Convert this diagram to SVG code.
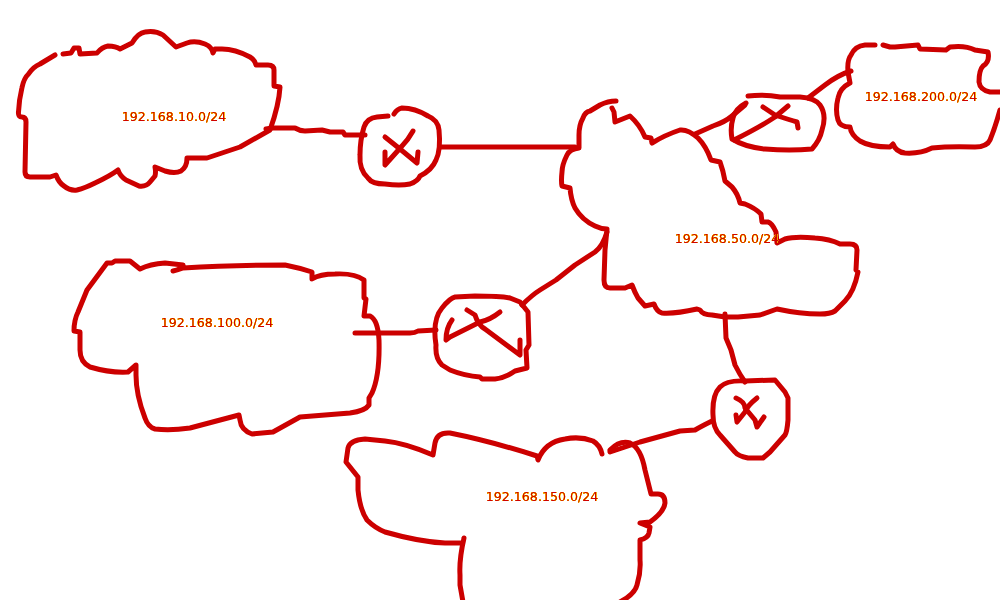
<svg xmlns="http://www.w3.org/2000/svg" width="1000" height="600" viewBox="0 0 1000 600">
<defs>
<filter id="halo" x="-5%" y="-30%" width="110%" height="160%" color-interpolation-filters="sRGB">
<feGaussianBlur in="SourceAlpha" stdDeviation=".5" result="b"/>
<feComponentTransfer in="b" result="a"><feFuncA type="linear" slope="3.5"/></feComponentTransfer>
<feFlood flood-color="#ffee00"/>
<feComposite in2="a" operator="in" result="y"/>
<feMerge><feMergeNode in="y"/><feMergeNode in="SourceGraphic"/></feMerge>
</filter>
</defs>
<style>
path{fill:none;stroke:#cc0000;stroke-width:5;stroke-linecap:round;stroke-linejoin:round}
text{font-family:"DejaVu Sans",sans-serif;font-size:12.6px;fill:#d00000;text-anchor:middle;filter:url(#halo)}
</style>
<rect width="1000" height="600" fill="#fff"/>
<g id="connectors">
<path d="M266,129 L272,128 L295,128 Q300,131 305,131 L322,130 L330,132 L343,132 L345,135 L365,135"/>
<path d="M440,147 L575,147"/>
<path d="M695,134 L713,126 Q725,122 732,116 L745,105"/>
<path d="M808,98 L825,85 Q838,75 851,71"/>
<path d="M355,333 L395,333 L410,333 Q415,333 418,331 L436,330"/>
<path d="M522,305 Q532,295 540,290 L556,280 L575,265 L595,252 Q603,246 607,232"/>
<path d="M725,314 L726,338 L731,350 L735,365 Q740,375 745,382"/>
<path d="M712,421 Q700,427 695,430 L680,431 L640,442 L610,452"/>
</g>
<g id="net-10">
<path d="M55,55 L40,64 Q33,67 28.5,74 Q24,78 22,87.5 Q19,100 18.5,112 Q18,117 22,117 Q26,117 26,122 L25,172 Q25,177 30,177 L50,177 L56,175 Q59,183 64,186 Q70,191 77,190 Q85,188 95,183 Q110,176 118,170 Q120,176 126,180 L139,186 Q146,187 150,182 L155,176 Q156,172 155,167 L165,171 Q175,174 181,171 Q187,167 187,158 L207,158 L240,147 L270,130 Q279,105 280,87 L274,86 L274,70 Q274,65 268,65 L256,65 Q255,60 250,57 Q235,49 222,49 L215,49 L213,53 Q212,47 205,44 Q195,40 187,43 L176,47 L163,35 Q155,30 145,32 Q138,33 132,43 L120,49 Q116,46 108,46 Q102,47 97,53 L80,54 L79,48 L74,48 L71,53 L63,54"/>
<text x="174" y="120.5">192.168.10.0/24</text>
</g>
<g id="router-1">
<path d="M388,116 L377,117 Q367,118 364,127 Q360,140 360,155 Q359,170 368,178 Q372,184 385,184 Q400,186 410,184 Q418,181 420,176 Q432,170 436,160 Q441,150 439,130 Q438,120 428,116 Q415,108 402,108 Q397,109 394,114"/>
<path d="M385,137 L400,149 L417,163 L418,152"/>
<path d="M413,131 Q408,140 402,146 L385,165 L385,152"/>
</g>
<g id="net-50">
<path d="M616,101 Q608,101 600,105 L590,111 Q585,112 583,118 Q579,125 579,135 L579,148 Q570,149 567,155 Q562,165 562,172 Q561,181 562,186 L570,188 Q571,200 575,208 Q582,220 595,226 Q601,229 607,229 L605,250 L604,280 Q604,288 610,288 L625,288 L632,285 Q635,293 638,298 L645,306 L654,304 Q657,312 662,313 Q675,314 697,309 L700,310 Q703,315 712,315 L725,317 L738,317 L760,315 L777,309 Q800,314 820,314 Q830,314 835,311 L845,301 Q854,292 858,272 L856,270 L857,250 Q857,244 850,244 L840,244 Q830,239 815,238 Q795,236 785,239 L777,243 L776,232 Q772,223 768,222 L762,222 L761,214 Q755,208 745,204 L740,203 Q738,194 732,187 L725,181 Q723,170 720,162 L711,160 Q706,146 698,138 Q688,129 680,130 Q665,135 652,143 L651,138 L645,137 Q640,125 630,116 L615,122 L614,112 L612,108"/>
<text x="727" y="242.5">192.168.50.0/24</text>
</g>
<g id="router-2">
<path d="M746,103 Q735,109 733,118 Q730,128 732,139 Q745,147 765,149 Q790,151 812,149 Q820,140 822,130 Q827,115 820,105 Q815,98 800,97 L780,97 Q765,94 748,96"/>
<path d="M763,107 L775,115 Q790,120 797,122 L798,128"/>
<path d="M788,106 L775,117 Q760,127 734,140"/>
</g>
<g id="net-200">
<path d="M875,45 L865,45 Q855,46 851,55 Q847,60 848,72 L850,83 Q840,88 838,98 Q835,110 838,120 Q840,127 850,127 Q851,135 860,141 Q870,147 890,147 L893,144 Q896,152 905,153 Q920,154 932,148 Q950,146 975,147 Q987,147 990,140 Q995,128 1000,110"/>
<path d="M1000,92 L990,92 Q980,90 979,82 Q979,70 983,66 Q990,62 988,52 L975,50 Q965,45 950,47 L946,50 L920,49 L918,45 L895,47 L890,47 L883,45"/>
<text x="921" y="100.5">192.168.200.0/24</text>
</g>
<g id="net-100">
<path d="M173,271 Q178,270 183,268 Q230,265 285,265 Q300,268 312,272 L312,279 Q320,274 335,274 Q355,273 364,280 L364,298 L366,299 L364,316 L370,316 Q378,320 379,340 Q380,375 372,393 L369,398 L369,405 Q365,411 350,413 L300,417 L273,432 L252,434 Q241,430 240,420 L239,415 L190,428 Q170,431 155,429 Q148,427 145,418 Q136,395 136,375 L136,365 L128,372 Q110,373 90,367 Q80,362 80,350 L80,332 L74,331 Q74,320 78,312 Q85,295 87,290 L107,263 L112,263 L115,261 L130,261 L140,269 Q150,264 165,263 L183,265 Q182,269 173,271"/>
<text x="217" y="326.5">192.168.100.0/24</text>
</g>
<g id="router-3">
<path d="M455,297 L475,296 Q500,296 510,298 L520,302 L528,312 L529,345 L526,350 L527,368 L515,371 Q505,378 495,379 L482,379 L480,377 Q465,376 450,370 L442,365 Q435,358 436,345 Q432,320 442,308 Q450,298 455,297"/>
<path d="M467,310 L475,315 Q478,325 485,329 L520,355 L520,340"/>
<path d="M500,312 Q490,320 480,322 L450,337 L446,340 Q446,328 452,320"/>
</g>
<g id="router-4">
<path d="M745,381 L775,380 L785,392 L788,398 L788,420 Q787,432 785,435 L770,452 L763,458 L748,458 Q738,456 735,452 L720,435 Q713,428 713,415 Q712,395 720,387 Q727,380 745,381"/>
<path d="M736,398 Q745,402 745,408 L755,420 L757,427 L764,417"/>
<path d="M757,398 Q747,406 745,412 L737,422 L736,415"/>
</g>
<g id="net-150">
<path d="M602,454 Q600,445 593,441 Q580,436 565,439 Q545,442 538,460 L537,456 Q490,441 450,433 Q437,432 435,443 L433,455 Q405,443 385,441 L365,439 Q350,440 348,448 L346,462 L358,477 L358,490 Q360,510 367,520 Q375,528 385,532 Q420,542 445,543 L463,543 L464,538 Q459,560 460,575 L460,585 L463,602"/>
<path d="M620,602 Q635,594 637,585 Q641,572 640,560 L640,540 Q648,538 649,533 L650,527 L640,523 L650,522 Q664,512 665,503 Q665,494 658,494 L651,494 L645,470 Q641,448 630,443 Q620,440 610,450"/>
<text x="542" y="500.5">192.168.150.0/24</text>
</g>
</svg>
